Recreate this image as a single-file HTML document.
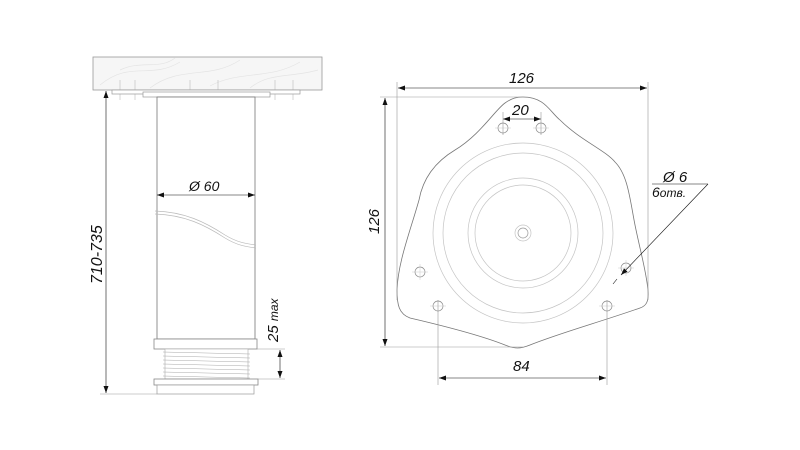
<!DOCTYPE html>
<html><head><meta charset="utf-8"><style>
html,body{margin:0;padding:0;background:#fff;width:800px;height:450px;overflow:hidden}
svg{display:block}
text{font-family:"Liberation Sans",sans-serif;font-style:italic;fill:#111}
</style></head><body>
<svg width="800" height="450" viewBox="0 0 800 450" xmlns="http://www.w3.org/2000/svg">
<defs>
<marker id="a" markerWidth="8" markerHeight="6" refX="7" refY="3" orient="auto-start-reverse" markerUnits="userSpaceOnUse"><path d="M0,0.5 L7,3 L0,5.5 z" fill="#111"/></marker>
</defs>
<!-- Left leg -->
<rect x="93" y="57" width="229" height="33" fill="#f6f6f6" stroke="#999" stroke-width="0.8"/>
<g stroke="#e4e4e4" stroke-width="0.7" fill="none">
<path d="M100,85 C130,60 150,80 180,62 M150,88 C180,65 210,80 240,60 M210,86 C240,70 270,80 300,62 M120,70 C140,60 160,70 175,58 M250,88 C270,72 290,78 318,70"/>
</g>
<g stroke="#bbb" stroke-width="0.6">
<line x1="120" y1="80" x2="120" y2="100"/><line x1="135" y1="80" x2="135" y2="100"/><line x1="190" y1="80" x2="190" y2="100"/><line x1="218" y1="80" x2="218" y2="100"/><line x1="275" y1="80" x2="275" y2="100"/><line x1="293" y1="80" x2="293" y2="100"/>
</g>
<rect x="112" y="90" width="188" height="4" fill="#fff" stroke="#999" stroke-width="0.7"/>
<rect x="143" y="92" width="127" height="5" fill="#fff" stroke="#999" stroke-width="0.7"/>
<rect x="157" y="97" width="98" height="242" fill="#fff" stroke="#777" stroke-width="0.8"/>
<path d="M155,211 C185,212 205,222 225,235 C238,243 248,244 256,245" fill="none" stroke="#bbb" stroke-width="0.7"/>
<path d="M155,214 C185,215 205,225 225,238 C238,246 248,247 256,248" fill="none" stroke="#bbb" stroke-width="0.7"/>
<rect x="154" y="339" width="103" height="10" fill="#fff" stroke="#888" stroke-width="0.8"/>
<g stroke="#aaa" stroke-width="0.6">
<rect x="165" y="349" width="83" height="30" fill="#fff"/>
<line x1="163" y1="352" x2="250" y2="354"/><line x1="163" y1="356" x2="250" y2="358"/><line x1="163" y1="360" x2="250" y2="362"/><line x1="163" y1="364" x2="250" y2="366"/><line x1="163" y1="368" x2="250" y2="370"/><line x1="163" y1="372" x2="250" y2="374"/><line x1="163" y1="376" x2="250" y2="378"/>
</g>
<rect x="154" y="379" width="104" height="6" fill="#fff" stroke="#888" stroke-width="0.8"/>
<rect x="157" y="385" width="97" height="9" fill="#fff" stroke="#999" stroke-width="0.7"/>
<g stroke="#111" stroke-width="0.6" fill="none">
<line x1="106" y1="91" x2="106" y2="393" marker-start="url(#a)" marker-end="url(#a)"/>
<line x1="100" y1="394" x2="157" y2="394" stroke="#999"/>
<line x1="157" y1="195" x2="255" y2="195" marker-start="url(#a)" marker-end="url(#a)"/>
<line x1="280" y1="350" x2="280" y2="378" marker-start="url(#a)" marker-end="url(#a)"/>
<line x1="257" y1="349" x2="285" y2="349" stroke="#999"/>
<line x1="258" y1="379" x2="285" y2="379" stroke="#999"/>
</g>
<text x="0" y="0" font-size="16" font-style="normal" transform="translate(102,284) rotate(-90)">710-735</text>
<text x="189" y="191" font-size="14">Ø 60</text>
<text x="0" y="0" font-size="15" font-style="normal" transform="translate(278,342) rotate(-90)">25 <tspan font-size="12" font-style="italic">max</tspan></text>
<!-- Plate -->
<path d="M523,97 C545,97 550,112 560,120 C580,140 605,150 615,162 C628,175 630,200 635,225 C640,250 646,270 648,290 C649,302 646,306 640,308 C600,322 560,333 530,345 C520,349 515,349 505,345 C480,335 440,325 410,318 C399,314 397,305 397,290 C398,262 410,232 419,200 C423,178 435,162 455,150 C480,135 495,110 505,103 C512,98 517,97 523,97 Z" fill="#fff" stroke="#777" stroke-width="0.8"/>
<g fill="none" stroke="#c4c4c4" stroke-width="0.7">
<circle cx="523" cy="233" r="90"/>
<circle cx="523" cy="233" r="80"/>
<circle cx="523" cy="233" r="55"/>
<circle cx="523" cy="233" r="48"/>
<circle cx="523" cy="233" r="8"/>
<circle cx="523" cy="233" r="5" stroke="#999"/>
</g>
<g fill="#fff" stroke="#888" stroke-width="0.7">
<circle cx="503" cy="128" r="5"/><circle cx="541" cy="128" r="5"/>
<circle cx="420" cy="272" r="5"/><circle cx="438" cy="306" r="5"/>
<circle cx="626" cy="268" r="5"/><circle cx="607" cy="306" r="5"/>
</g>
<g stroke="#ccc" stroke-width="0.5">
<line x1="495" y1="128" x2="511" y2="128"/><line x1="533" y1="128" x2="549" y2="128"/>
<line x1="412" y1="272" x2="428" y2="272"/><line x1="430" y1="306" x2="446" y2="306"/>
<line x1="618" y1="268" x2="634" y2="268"/><line x1="599" y1="306" x2="615" y2="306"/>
<line x1="420" y1="264" x2="420" y2="280"/><line x1="626" y1="260" x2="626" y2="276"/>
</g>
<g stroke="#111" stroke-width="0.6" fill="none">
<line x1="398" y1="88" x2="647" y2="88" marker-start="url(#a)" marker-end="url(#a)"/>
<line x1="397" y1="82" x2="397" y2="300" stroke="#999"/>
<line x1="648" y1="82" x2="648" y2="300" stroke="#999"/>
<line x1="385" y1="98" x2="385" y2="346" marker-start="url(#a)" marker-end="url(#a)"/>
<line x1="380" y1="97" x2="523" y2="97" stroke="#999"/>
<line x1="380" y1="347" x2="523" y2="347" stroke="#999"/>
<line x1="503" y1="119" x2="541" y2="119" marker-start="url(#a)" marker-end="url(#a)"/>
<line x1="503" y1="112" x2="503" y2="135" stroke="#999"/>
<line x1="541" y1="112" x2="541" y2="135" stroke="#999"/>
<line x1="439" y1="378" x2="606" y2="378" marker-start="url(#a)" marker-end="url(#a)"/>
<line x1="438" y1="300" x2="438" y2="385" stroke="#999"/>
<line x1="607" y1="300" x2="607" y2="385" stroke="#999"/>
<line x1="652" y1="184" x2="708" y2="184"/>
<line x1="708" y1="184" x2="621" y2="275" marker-end="url(#a)"/>
<line x1="617" y1="279" x2="613" y2="284"/>
</g>
<text x="509" y="83" font-size="15">126</text>
<text x="0" y="0" font-size="15" transform="translate(379,234) rotate(-90)">126</text>
<text x="512" y="115" font-size="15">20</text>
<text x="513" y="371" font-size="15">84</text>
<text x="663" y="182" font-size="15">Ø 6</text>
<text x="652" y="197" font-size="14">6<tspan font-size="12">отв.</tspan></text>
</svg>
</body></html>
